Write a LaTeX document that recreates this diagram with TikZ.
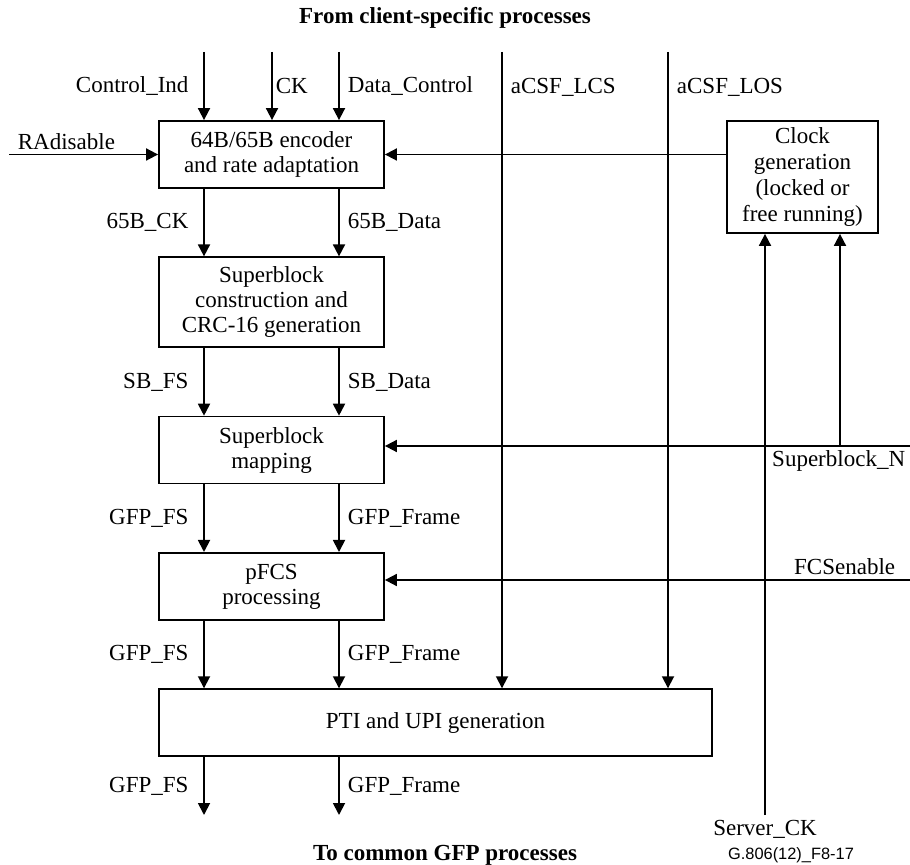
\documentclass[tikz,border=0pt]{standalone}
\usepackage{fontspec}
\setmainfont{Liberation Serif}
\newfontfamily\figfont{Liberation Sans}
\usetikzlibrary{arrows.meta,positioning}

\begin{document}
\begin{tikzpicture}[x=0.5pt,y=-0.5pt,node distance=33.75pt,
    font=\fontsize{11.5}{12.5}\selectfont,
    blk/.style={draw,line width=0.9pt,minimum width=112.5pt,minimum height=33.5pt,
      align=center,inner sep=2pt},
    sig/.style={line width=0.9pt,-{Triangle[length=6pt,width=6pt]}},
    lft/.style={left,xshift=-4pt},
    rgt/.style={right,inner sep=4pt}]
    \useasboundingbox (0,0) rectangle (910,865);

    \node[font=\bfseries\fontsize{11.5}{12.5}\selectfont] (src) at (445,18) {From client-specific processes};
    \node[font=\bfseries\fontsize{11.5}{12.5}\selectfont] (dst) at (445,855) {To common GFP processes};
    \node[font=\figfont\fontsize{8.2}{9}\selectfont] (fig) at (791,855) {G.806(12)\_F8-17};

    \node[blk] (enc) at (271.5,154.5) {64B/65B encoder\\and rate adaptation};
    \node[blk, minimum height=45pt] (sbc) [below=of enc] {Superblock\\construction and\\CRC-16 generation};
    \node[blk] (sbm) [below=of sbc] {Superblock\\mapping};
    \node[blk] (pfcs) [below=of sbm] {pFCS\\processing};
    \node[blk, minimum width=276.5pt] (pti) [below=of pfcs.south west, anchor=north west] {PTI and UPI generation};
    \node[blk, minimum width=75.5pt, minimum height=56pt, font=\fontsize{11.5}{13}\selectfont]
      (clk) at (802.5,177) {Clock\\generation\\(locked or\\free running)};

    \coordinate (ci) at (204,52);
    \coordinate (ck) at (272,52);
    \coordinate (dc) at (339,52);
    \coordinate (lcs) at (502,52);
    \coordinate (los) at (668,52);
    \coordinate (ra) at (9,154.5);
    \coordinate (sbn) at (910,446);
    \coordinate (sbup) at (840,446);
    \coordinate (fcs) at (910,580);
    \coordinate (sck) at (765,815);
    \coordinate (fso) at (204,815);
    \coordinate (fro) at (339,815);

    \path[sig]
    (ci) edge node[lft] {Control\_Ind} (ci |- enc.north)
    (ck) edge node[right,inner sep=1.5pt] {CK} (ck |- enc.north)
    (dc) edge node[rgt] {Data\_Control} (dc |- enc.north)
    (lcs) edge node[rgt,pos=0.055] {aCSF\_LCS} (lcs |- pti.north)
    (los) edge node[rgt,pos=0.055] {aCSF\_LOS} (los |- pti.north)
    (ra) edge node[pos=0,above right,inner sep=2pt,xshift=2pt] {RAdisable} (enc.west)
    (clk.west |- enc.east) edge (enc.east)
    (ci |- enc.south) edge node[lft] {65B\_CK} (ci |- sbc.north)
    (dc |- enc.south) edge node[rgt] {65B\_Data} (dc |- sbc.north)
    (ci |- sbc.south) edge node[lft] {SB\_FS} (ci |- sbm.north)
    (dc |- sbc.south) edge node[rgt] {SB\_Data} (dc |- sbm.north)
    (ci |- sbm.south) edge node[lft] {GFP\_FS} (ci |- pfcs.north)
    (dc |- sbm.south) edge node[rgt] {GFP\_Frame} (dc |- pfcs.north)
    (ci |- pfcs.south) edge node[lft] {GFP\_FS} (ci |- pti.north)
    (dc |- pfcs.south) edge node[rgt] {GFP\_Frame} (dc |- pti.north)
    (ci |- pti.south) edge node[lft] {GFP\_FS} (fso)
    (dc |- pti.south) edge node[rgt] {GFP\_Frame} (fro)
    (sbn) edge node[pos=0,below left,inner sep=2pt] {Superblock\_N} (sbn -| sbm.east)
    (sbup) edge (sbup |- clk.south)
    (fcs) edge node[pos=0,above left,inner sep=2pt,xshift=-5pt] {FCSenable} (fcs -| pfcs.east)
    (sck) edge node[pos=0,below,inner sep=2pt] {Server\_CK} (sck |- clk.south)
    ;
\end{tikzpicture}
\end{document}
